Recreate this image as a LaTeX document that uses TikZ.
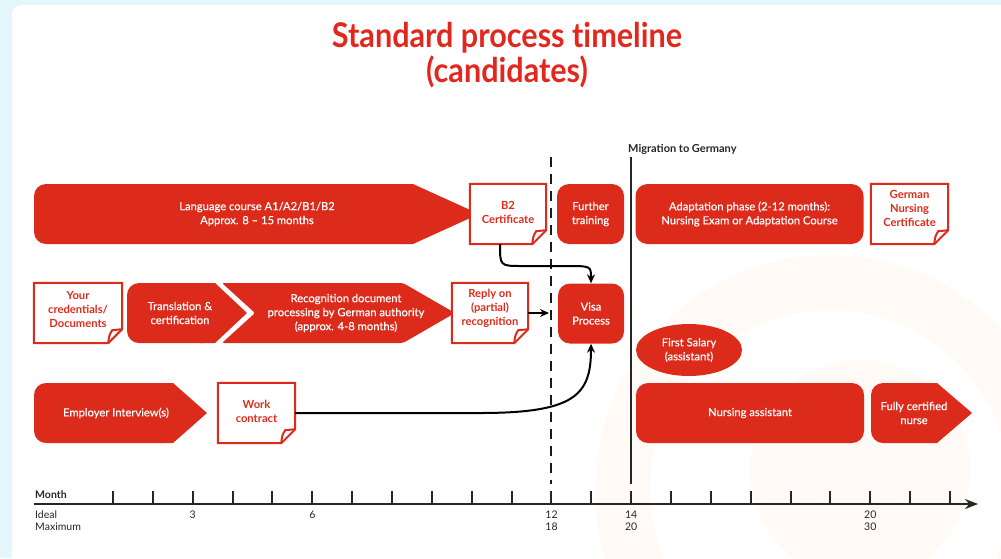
\documentclass[tikz,border=0pt]{standalone}
\usepackage{fontspec}
\setmainfont{Lato}
\newfontfamily\titlefont{Lato}[FakeStretch=0.9, Ligatures={NoCommon}]
\newfontfamily\boxfont{Lato}[FakeBold=0.4]
\usetikzlibrary{arrows.meta,shapes.geometric}
\definecolor{myred}{RGB}{221,43,27}
\definecolor{titlered}{RGB}{226,40,30}
\definecolor{bgblue}{RGB}{226,246,252}
\definecolor{wm}{RGB}{255,250,246}
\newcommand{\noteoutline}[1]{%
  \draw[noteline] (#1.north west) -- (#1.north east) -- ([yshift=14pt]#1.south east) -- ([xshift=-14pt]#1.south east) -- (#1.south west) -- cycle;
  \draw[noteline] ([xshift=-14pt]#1.south east) .. controls ([xshift=-13pt,yshift=8pt]#1.south east) .. ([xshift=-10pt,yshift=13pt]#1.south east) -- ([yshift=14pt]#1.south east);}
\begin{document}
\begin{tikzpicture}[x=1pt,y=-1pt,
  title/.style={text=titlered, font=\titlefont\bfseries\fontsize{34}{35}\selectfont, align=center, inner sep=0pt},
  boxtxt/.style={text=white, font=\boxfont\fontsize{11.2}{14}\selectfont, align=center, inner sep=0pt},
  notetxt/.style={text=myred, font=\bfseries\fontsize{11.2}{14}\selectfont, align=center, inner sep=0pt},
  rbox/.style={boxtxt, rectangle, fill=myred, rounded corners=12pt},
  notebox/.style={rectangle, fill=white, inner sep=0pt},
  noteline/.style={draw=myred, line width=2pt, line join=miter},
  redshape/.style={fill=myred},
  conn/.style={draw=black, line width=2pt, -{Stealth[length=9pt,width=8pt]}},
  dashline/.style={draw=black!90, line width=2.5pt, dash pattern=on 10pt off 7pt},
  solidline/.style={draw=black!85, line width=2pt},
  axisline/.style={draw=black!85, line width=2.5pt, -{Stealth[length=13pt,width=10pt]}},
  tickline/.style={draw=black!85, line width=2pt},
  axlbl/.style={font=\fontsize{10.5}{12.5}\selectfont, inner sep=0pt, text=black!85},
  miglbl/.style={font=\bfseries\fontsize{11}{12.5}\selectfont, inner sep=0pt, text=black!85}
]
\useasboundingbox (0,0) rectangle (1001,558);
% background
\fill[bgblue] (0,0) rectangle (1001,558);
\fill[white, rounded corners=10pt] (12,5) rectangle (1040,600);
\begin{scope}
  \clip (12,5) rectangle (1001,558);
  \fill[wm, even odd rule] (830,490) circle[radius=235] (830,490) circle[radius=180];
  \fill[wm] (860,470) circle[radius=110];
\end{scope}

% title
\node[title] (title) at (507,55) {Standard process timeline\\(candidates)};

% vertical lines
\coordinate (dtop) at (551,157); \coordinate (dbot) at (551,484);
\draw[dashline] (dtop) -- (dbot);
\coordinate (mtop) at (631,157); \coordinate (mbot) at (631,484);
\draw[solidline] (mtop) -- (mbot);
\node[miglbl, anchor=base west] (mig) at (628,152) {Migration to Germany};

% ---- row 1
\fill[redshape, rounded corners=12pt] (34,184) rectangle (413,244);
\fill[redshape] (400,184) -- (413,184) -- (479,214) -- (413,244) -- (400,244) -- cycle;
\node[boxtxt] (lang) at (257,214) {Language course A1/A2/B1/B2\\Approx. 8 – 15 months};

\node[notebox, minimum width=76pt, minimum height=60pt,
  label={[notetxt,yshift=2pt]center:{B2\\Certificate}}] (b2) at (508,214) {};
\noteoutline{b2}

\node[rbox, minimum width=67pt, minimum height=60pt] (further) at (590.5,214) {Further\\training};
\node[rbox, minimum width=228pt, minimum height=60pt] (adapt) at (749.5,214) {Adaptation phase (2-12 months):\\Nursing Exam or Adaptation Course};

\node[notebox, minimum width=77pt, minimum height=60pt,
  label={[notetxt,yshift=6pt]center:{German\\Nursing\\Certificate}}] (gnc) at (909.5,214) {};
\noteoutline{gnc}

% ---- row 2
\node[notebox, minimum width=88pt, minimum height=60pt,
  label={[notetxt,yshift=3.5pt]center:{Your\\credentials/\\Documents}}] (cred) at (78,313) {};
\noteoutline{cred}

\fill[redshape, rounded corners=12pt] (127,283) rectangle (215,343);
\fill[redshape] (200,283) -- (215,283) -- (247,313) -- (215,343) -- (200,343) -- cycle;
\node[boxtxt] (trans) at (180,313) {Translation \&\\certification};

\fill[redshape, rounded corners=2pt] (222,283) -- (403,283) -- (455,313) -- (403,343) -- (222,343) -- (255,313) -- cycle;
\node[boxtxt] (recog) at (346,313) {Recognition document\\processing by German authority\\(approx. 4-8 months)};

\node[notebox, minimum width=76pt, minimum height=60pt,
  label={[notetxt,yshift=4.5pt]center:{Reply on\\(partial)\\recognition}}] (reply) at (490,313) {};
\noteoutline{reply}

\node[rbox, minimum width=66pt, minimum height=60pt] (visa) at (591,313.5) {Visa\\Process};

\node[boxtxt, ellipse, fill=myred, minimum width=106pt, minimum height=52pt] (salary) at (689,350) {First Salary\\(assistant)};

% ---- row 3
\fill[redshape, rounded corners=12pt] (34,383) rectangle (173,443);
\fill[redshape] (160,383) -- (173,383) -- (207,413) -- (173,443) -- (160,443) -- cycle;
\node[boxtxt] (emp) at (116,413) {Employer Interview(s)};

\node[notebox, minimum width=77pt, minimum height=60pt,
  label={[notetxt,yshift=1.5pt]center:{Work\\contract}}] (work) at (256.5,413) {};
\noteoutline{work}

\node[rbox, minimum width=228pt, minimum height=60pt] (nursing) at (750,413) {Nursing assistant};

\fill[redshape, rounded corners=12pt] (871,383) rectangle (937,443);
\fill[redshape] (925,383) -- (937,383) -- (972,413) -- (937,443) -- (925,443) -- cycle;
\node[boxtxt] (fully) at (914,413) {Fully certified\\nurse};

% ---- connectors
\draw[conn] ([xshift=-8pt]b2.south) .. controls (500,266) and (500,266) .. (522,266) -- (566,266) .. controls (591,266) and (591,266) .. (visa.north);
\coordinate (replyend) at (549,313);
\draw[conn] (reply.east) -- (replyend);
\draw[conn] (work.east) -- (480,413) .. controls (575,413) and (591,395) .. (visa.south);

% ---- axis
\coordinate (axstart) at (34,504); \coordinate (axend) at (978,504);
\draw[axisline] (axstart) -- (axend);
\foreach \i in {0,...,21} \draw[tickline] ({113+39.86*\i},504) -- ++(0,-13);
\node[axlbl, anchor=base west, font=\bfseries\fontsize{10.5}{12.5}\selectfont] (month) at (35,498) {Month};
\node[axlbl, anchor=base west] (ideal) at (35,518.5) {Ideal};
\node[axlbl, anchor=base west] (maxi) at (35,530.5) {Maximum};
\node[axlbl, anchor=base] (i3) at (192.7,518.5) {3};
\node[axlbl, anchor=base] (i6) at (312.3,518.5) {6};
\node[axlbl, anchor=base] (i12) at (551.5,518.5) {12};
\node[axlbl, anchor=base] (m18) at (551.5,530.5) {18};
\node[axlbl, anchor=base] (i14) at (631.2,518.5) {14};
\node[axlbl, anchor=base] (m20) at (631.2,530.5) {20};
\node[axlbl, anchor=base] (i20) at (870.3,518.5) {20};
\node[axlbl, anchor=base] (m30) at (870.3,530.5) {30};
\end{tikzpicture}
\end{document}
